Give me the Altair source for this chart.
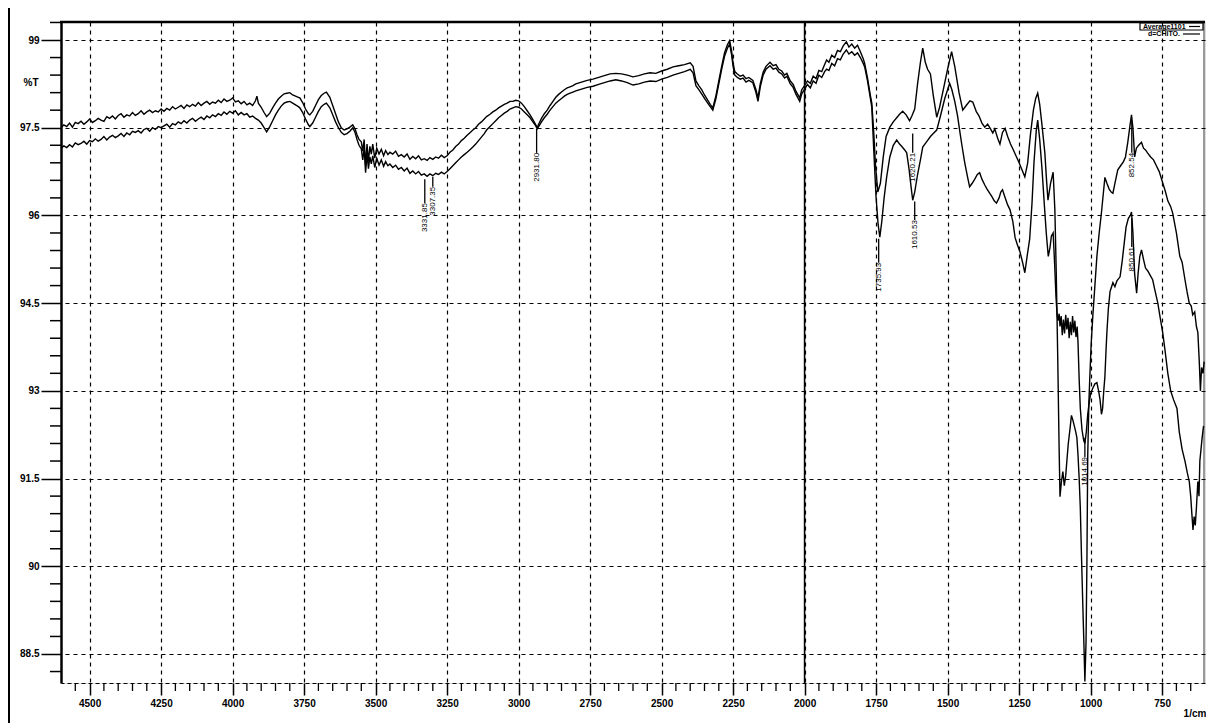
import altair as alt
import pandas as pd

# ---------------- data ----------------
spec_a = [
    (4600, 97.50), (4590, 97.55), (4580, 97.52), (4570, 97.58), (4560, 97.51), (4550, 97.59),
    (4540, 97.57), (4530, 97.61), (4520, 97.56), (4510, 97.60), (4500, 97.65), (4490, 97.59),
    (4480, 97.62), (4470, 97.66), (4460, 97.63), (4450, 97.61), (4440, 97.69), (4430, 97.66),
    (4420, 97.70), (4410, 97.65), (4400, 97.71), (4390, 97.74), (4380, 97.68), (4370, 97.72),
    (4360, 97.70), (4350, 97.76), (4340, 97.71), (4330, 97.74), (4320, 97.79), (4310, 97.73),
    (4300, 97.77), (4290, 97.80), (4280, 97.76), (4270, 97.79), (4260, 97.77), (4250, 97.82),
    (4240, 97.78), (4230, 97.83), (4220, 97.80), (4210, 97.86), (4200, 97.82), (4190, 97.85),
    (4180, 97.88), (4170, 97.83), (4160, 97.89), (4150, 97.86), (4140, 97.90), (4130, 97.87),
    (4120, 97.93), (4110, 97.88), (4100, 97.92), (4090, 97.95), (4080, 97.90), (4070, 97.94),
    (4060, 97.92), (4050, 97.97), (4040, 97.93), (4030, 97.99), (4020, 97.95), (4010, 97.97),
    (4000, 98.01), (3990, 97.94), (3980, 97.96), (3970, 97.91), (3960, 97.95), (3950, 97.89),
    (3940, 97.92), (3930, 97.88), (3920, 97.96), (3915, 98.04), (3910, 97.92), (3900, 97.85),
    (3890, 97.76), (3881, 97.69), (3870, 97.75), (3860, 97.84), (3850, 97.92), (3840, 97.99),
    (3830, 98.04), (3820, 98.08), (3810, 98.09), (3800, 98.10), (3790, 98.06), (3780, 98.04),
    (3770, 98.02), (3765, 98.01), (3755, 97.93), (3745, 97.82), (3735, 97.74), (3730, 97.72),
    (3720, 97.78), (3710, 97.88), (3700, 97.98), (3690, 98.05), (3680, 98.09), (3672, 98.11),
    (3660, 98.02), (3650, 97.88), (3640, 97.74), (3630, 97.60), (3620, 97.50), (3610, 97.46),
    (3600, 97.48), (3590, 97.51), (3580, 97.55), (3572, 97.48), (3565, 97.38), (3558, 97.30),
    (3550, 97.26), (3545, 97.10), (3540, 97.30), (3535, 96.85), (3530, 97.22), (3525, 96.92),
    (3520, 97.18), (3515, 97.05), (3510, 97.22), (3503, 96.98), (3496, 97.15), (3488, 97.05),
    (3480, 97.13), (3472, 97.02), (3465, 97.11), (3457, 97.04), (3450, 97.08), (3440, 97.05),
    (3430, 97.10), (3420, 97.01), (3410, 97.04), (3400, 97.00), (3390, 97.05), (3380, 96.96),
    (3370, 97.01), (3360, 96.97), (3350, 97.02), (3340, 96.95), (3330, 96.97), (3320, 96.94),
    (3310, 96.99), (3300, 96.96), (3290, 97.00), (3280, 96.98), (3270, 97.03), (3260, 96.99),
    (3250, 97.02), (3240, 97.08), (3230, 97.12), (3220, 97.18), (3210, 97.22), (3200, 97.28),
    (3190, 97.32), (3180, 97.37), (3171, 97.41), (3160, 97.46), (3150, 97.50), (3140, 97.56),
    (3130, 97.60), (3120, 97.65), (3112, 97.69), (3100, 97.73), (3090, 97.77), (3080, 97.80),
    (3070, 97.84), (3060, 97.87), (3050, 97.90), (3040, 97.92), (3030, 97.95), (3020, 97.95),
    (3010, 97.97), (3000, 97.96), (2990, 97.92), (2980, 97.86), (2970, 97.79), (2960, 97.72),
    (2950, 97.64), (2940, 97.55), (2935, 97.50), (2930, 97.56), (2920, 97.66), (2910, 97.74),
    (2900, 97.80), (2890, 97.88), (2880, 97.95), (2870, 98.02), (2860, 98.07), (2850, 98.11),
    (2840, 98.15), (2830, 98.18), (2820, 98.20), (2810, 98.22), (2800, 98.25), (2780, 98.28),
    (2760, 98.31), (2740, 98.33), (2720, 98.36), (2700, 98.39), (2680, 98.42), (2660, 98.43),
    (2640, 98.42), (2620, 98.40), (2600, 98.37), (2580, 98.39), (2560, 98.42), (2540, 98.44),
    (2520, 98.43), (2500, 98.47), (2480, 98.50), (2460, 98.54), (2440, 98.56), (2420, 98.58),
    (2400, 98.61), (2390, 98.55), (2380, 98.30), (2370, 98.22), (2360, 98.15), (2350, 98.06),
    (2340, 97.98), (2330, 97.90), (2321, 97.84), (2310, 98.05), (2300, 98.30), (2290, 98.55),
    (2280, 98.78), (2270, 98.92), (2262, 98.99), (2255, 98.80), (2250, 98.60), (2244, 98.46),
    (2235, 98.42), (2225, 98.38), (2215, 98.40), (2205, 98.34), (2195, 98.36), (2181, 98.31),
    (2170, 98.15), (2163, 98.01), (2155, 98.25), (2145, 98.45), (2135, 98.55), (2121, 98.62),
    (2110, 98.56), (2100, 98.58), (2090, 98.50), (2080, 98.47), (2070, 98.40), (2062, 98.43),
    (2050, 98.30), (2040, 98.24), (2030, 98.12), (2017, 98.01), (2010, 98.15), (2000, 98.22),
    (1990, 98.30), (1980, 98.26), (1970, 98.38), (1960, 98.34), (1950, 98.48), (1940, 98.46),
    (1930, 98.58), (1923, 98.66), (1915, 98.62), (1905, 98.74), (1895, 98.70), (1885, 98.82),
    (1875, 98.80), (1865, 98.90), (1854, 98.97), (1845, 98.88), (1835, 98.93), (1825, 98.86),
    (1815, 98.91), (1805, 98.80), (1795, 98.68), (1790, 98.60), (1780, 98.35), (1770, 98.05),
    (1765, 97.92), (1758, 97.40), (1752, 96.85), (1744, 96.40), (1735, 96.55), (1725, 97.00),
    (1715, 97.35), (1702, 97.51), (1690, 97.60), (1678, 97.67), (1668, 97.73), (1657, 97.78),
    (1645, 97.72), (1633, 97.62), (1625, 97.70), (1615, 97.82), (1605, 98.25), (1595, 98.62),
    (1587, 98.86), (1578, 98.62), (1570, 98.50), (1560, 98.42), (1550, 98.05), (1538, 97.68),
    (1528, 97.85), (1515, 98.15), (1500, 98.50), (1486, 98.80), (1475, 98.55), (1460, 98.10),
    (1447, 97.80), (1435, 97.88), (1422, 97.96), (1412, 97.94), (1400, 97.78), (1390, 97.70),
    (1380, 97.58), (1370, 97.51), (1360, 97.56), (1350, 97.48), (1342, 97.41), (1335, 97.48),
    (1325, 97.32), (1317, 97.22), (1308, 97.42), (1299, 97.49), (1290, 97.35), (1280, 97.22),
    (1270, 97.12), (1259, 97.00), (1250, 96.90), (1240, 96.78), (1230, 96.66), (1220, 96.90),
    (1210, 97.40), (1200, 97.80), (1192, 98.00), (1185, 98.09), (1178, 97.90), (1170, 97.55),
    (1160, 97.07), (1154, 96.60), (1149, 96.26), (1140, 96.55), (1131, 96.74), (1125, 96.10),
    (1120, 95.00), (1115, 93.60), (1110, 92.00), (1107, 91.19), (1102, 91.45), (1097, 91.62),
    (1092, 91.38), (1087, 91.55), (1083, 91.80), (1078, 92.10), (1072, 92.35), (1067, 92.58),
    (1062, 92.50), (1057, 92.40), (1052, 92.30), (1048, 92.20), (1044, 91.90), (1040, 91.50),
    (1036, 91.00), (1032, 90.20), (1027, 89.30), (1023, 88.60), (1020, 88.03), (1016, 88.70),
    (1013, 90.00), (1010, 91.90), (1006, 92.80), (1003, 93.20), (998, 93.80), (992, 94.30),
    (985, 94.80), (978, 95.30), (970, 95.70), (962, 96.05), (955, 96.40), (950, 96.65),
    (943, 96.55), (935, 96.45), (928, 96.40), (922, 96.38), (915, 96.55), (905, 96.78),
    (895, 96.85), (885, 96.92), (878, 97.00), (870, 97.25), (862, 97.55), (857, 97.72),
    (852, 97.50), (846, 97.00), (840, 97.15), (832, 97.20), (822, 97.25), (815, 97.15),
    (808, 97.12), (801, 97.07), (790, 97.00), (780, 96.95), (770, 96.85), (760, 96.75),
    (748, 96.56), (738, 96.40), (730, 96.25), (720, 96.15), (713, 96.04), (700, 95.70),
    (688, 95.30), (680, 95.20), (670, 94.90), (663, 94.70), (655, 94.50), (648, 94.45),
    (643, 94.30), (636, 94.35), (630, 94.10), (625, 94.00), (620, 93.50), (616, 93.00),
    (612, 93.40), (607, 93.30), (603, 93.50),
]

spec_b = [
    (4600, 97.15), (4590, 97.19), (4580, 97.16), (4570, 97.21), (4560, 97.17), (4550, 97.24),
    (4540, 97.21), (4530, 97.23), (4520, 97.27), (4510, 97.22), (4500, 97.28), (4490, 97.26),
    (4480, 97.31), (4470, 97.27), (4460, 97.30), (4450, 97.35), (4440, 97.29), (4430, 97.34),
    (4420, 97.37), (4410, 97.33), (4400, 97.36), (4390, 97.40), (4380, 97.35), (4370, 97.41),
    (4360, 97.38), (4350, 97.44), (4340, 97.42), (4330, 97.45), (4320, 97.41), (4310, 97.47),
    (4300, 97.49), (4290, 97.44), (4280, 97.50), (4270, 97.47), (4260, 97.52), (4250, 97.50),
    (4240, 97.53), (4230, 97.56), (4220, 97.51), (4210, 97.57), (4200, 97.55), (4190, 97.60),
    (4180, 97.57), (4170, 97.62), (4160, 97.58), (4150, 97.63), (4140, 97.66), (4130, 97.61),
    (4120, 97.65), (4110, 97.68), (4100, 97.64), (4090, 97.70), (4080, 97.67), (4070, 97.72),
    (4060, 97.69), (4050, 97.74), (4040, 97.71), (4030, 97.77), (4020, 97.73), (4010, 97.78),
    (4000, 97.75), (3990, 97.79), (3980, 97.72), (3970, 97.76), (3960, 97.72), (3950, 97.74),
    (3940, 97.68), (3930, 97.70), (3920, 97.66), (3910, 97.63), (3900, 97.58), (3890, 97.50),
    (3881, 97.43), (3870, 97.52), (3860, 97.62), (3850, 97.72), (3840, 97.80), (3830, 97.87),
    (3820, 97.92), (3810, 97.94), (3800, 97.95), (3790, 97.92), (3780, 97.89), (3770, 97.86),
    (3765, 97.84), (3755, 97.76), (3745, 97.65), (3735, 97.55), (3730, 97.52), (3720, 97.58),
    (3710, 97.68), (3700, 97.78), (3690, 97.86), (3680, 97.90), (3672, 97.92), (3660, 97.84),
    (3650, 97.72), (3640, 97.60), (3630, 97.50), (3620, 97.42), (3610, 97.38), (3600, 97.40),
    (3590, 97.44), (3580, 97.50), (3572, 97.42), (3565, 97.30), (3558, 97.20), (3550, 97.14),
    (3545, 96.95), (3540, 97.15), (3535, 96.73), (3530, 97.05), (3525, 96.80), (3520, 97.00),
    (3515, 96.88), (3510, 97.02), (3503, 96.82), (3496, 96.98), (3488, 96.86), (3480, 96.95),
    (3472, 96.84), (3465, 96.92), (3457, 96.85), (3450, 96.88), (3440, 96.82), (3430, 96.86),
    (3420, 96.79), (3410, 96.82), (3400, 96.76), (3390, 96.81), (3380, 96.72), (3370, 96.76),
    (3360, 96.71), (3350, 96.75), (3340, 96.69), (3330, 96.71), (3320, 96.67), (3310, 96.71),
    (3300, 96.68), (3290, 96.72), (3280, 96.70), (3270, 96.74), (3260, 96.71), (3250, 96.75),
    (3240, 96.80), (3230, 96.85), (3220, 96.90), (3210, 96.95), (3200, 97.00), (3190, 97.04),
    (3180, 97.08), (3171, 97.12), (3160, 97.17), (3150, 97.22), (3140, 97.28), (3130, 97.34),
    (3120, 97.40), (3112, 97.46), (3100, 97.52), (3090, 97.57), (3080, 97.62), (3070, 97.67),
    (3060, 97.71), (3050, 97.75), (3040, 97.78), (3030, 97.82), (3020, 97.84), (3010, 97.86),
    (3000, 97.85), (2990, 97.82), (2980, 97.77), (2970, 97.72), (2960, 97.67), (2950, 97.60),
    (2940, 97.53), (2935, 97.48), (2930, 97.52), (2920, 97.60), (2910, 97.67), (2900, 97.73),
    (2890, 97.80), (2880, 97.86), (2870, 97.92), (2860, 97.96), (2850, 98.00), (2840, 98.04),
    (2830, 98.07), (2820, 98.09), (2810, 98.11), (2800, 98.13), (2780, 98.16), (2760, 98.19),
    (2740, 98.21), (2720, 98.24), (2700, 98.27), (2680, 98.30), (2660, 98.32), (2640, 98.30),
    (2620, 98.27), (2600, 98.23), (2580, 98.25), (2560, 98.28), (2540, 98.30), (2520, 98.29),
    (2500, 98.33), (2480, 98.36), (2460, 98.40), (2440, 98.43), (2420, 98.46), (2400, 98.50),
    (2390, 98.44), (2380, 98.22), (2370, 98.15), (2360, 98.08), (2350, 98.00), (2340, 97.93),
    (2330, 97.86), (2321, 97.80), (2310, 98.00), (2300, 98.25), (2290, 98.50), (2280, 98.72),
    (2270, 98.86), (2262, 98.93), (2255, 98.74), (2250, 98.55), (2244, 98.40), (2235, 98.36),
    (2225, 98.33), (2215, 98.35), (2205, 98.28), (2195, 98.31), (2181, 98.27), (2170, 98.10),
    (2163, 97.95), (2155, 98.20), (2145, 98.40), (2135, 98.50), (2121, 98.56), (2110, 98.50),
    (2100, 98.52), (2090, 98.45), (2080, 98.42), (2070, 98.35), (2062, 98.38), (2050, 98.25),
    (2040, 98.19), (2030, 98.07), (2017, 97.95), (2010, 98.08), (2000, 98.16), (1990, 98.24),
    (1980, 98.18), (1970, 98.30), (1960, 98.26), (1950, 98.40), (1940, 98.36), (1930, 98.46),
    (1923, 98.50), (1915, 98.48), (1905, 98.60), (1895, 98.56), (1885, 98.68), (1875, 98.66),
    (1865, 98.76), (1854, 98.83), (1845, 98.76), (1835, 98.80), (1825, 98.74), (1815, 98.78),
    (1805, 98.70), (1795, 98.60), (1790, 98.54), (1780, 98.30), (1770, 98.00), (1765, 97.85),
    (1758, 97.10), (1750, 96.30), (1743, 95.85), (1737, 95.63), (1730, 95.90), (1722, 96.30),
    (1713, 96.66), (1702, 97.00), (1690, 97.20), (1678, 97.29), (1668, 97.22), (1660, 97.18),
    (1650, 97.12), (1643, 97.07), (1635, 96.80), (1628, 96.50), (1622, 96.26), (1615, 96.40),
    (1605, 96.70), (1595, 96.95), (1587, 97.17), (1575, 97.25), (1560, 97.35), (1550, 97.40),
    (1538, 97.46), (1525, 97.70), (1510, 98.00), (1500, 98.15), (1493, 98.26), (1485, 98.15),
    (1475, 97.95), (1465, 97.70), (1458, 97.46), (1450, 97.20), (1440, 96.90), (1430, 96.65),
    (1423, 96.49), (1414, 96.55), (1405, 96.62), (1396, 96.70), (1388, 96.73), (1380, 96.62),
    (1370, 96.52), (1362, 96.45), (1353, 96.38), (1345, 96.32), (1337, 96.25), (1329, 96.21),
    (1320, 96.30), (1314, 96.40), (1308, 96.44), (1300, 96.32), (1290, 96.18), (1282, 96.10),
    (1272, 95.90), (1264, 95.62), (1256, 95.50), (1247, 95.38), (1238, 95.20), (1230, 95.02),
    (1222, 95.30), (1213, 95.60), (1205, 96.20), (1198, 96.90), (1190, 97.45), (1185, 97.63),
    (1178, 97.30), (1170, 96.80), (1162, 96.20), (1155, 95.70), (1148, 95.30), (1142, 95.45),
    (1137, 95.65), (1131, 95.70), (1126, 95.20), (1121, 94.60), (1117, 94.30), (1114, 94.20),
    (1110, 94.32), (1107, 94.10), (1103, 94.28), (1099, 93.95), (1095, 94.22), (1091, 93.98),
    (1087, 94.30), (1083, 94.05), (1079, 94.25), (1075, 93.90), (1071, 94.18), (1067, 93.95),
    (1063, 94.28), (1059, 94.00), (1055, 94.20), (1051, 93.92), (1047, 94.10), (1044, 93.82),
    (1040, 93.20), (1036, 92.70), (1030, 92.33), (1024, 92.15), (1020, 92.10), (1015, 92.30),
    (1010, 92.60), (1005, 92.80), (1000, 92.95), (992, 93.05), (985, 93.12), (978, 93.14),
    (972, 93.00), (967, 92.85), (962, 92.60), (958, 92.70), (954, 93.00), (950, 93.24),
    (946, 93.70), (943, 94.00), (938, 94.40), (932, 94.70), (922, 94.85), (915, 94.78),
    (908, 94.88), (897, 94.95), (890, 95.20), (883, 95.50), (876, 95.80), (868, 95.95),
    (861, 96.00), (857, 96.06), (852, 95.70), (846, 95.00), (839, 94.67), (834, 95.00),
    (828, 95.30), (822, 95.41), (815, 95.25), (808, 95.10), (800, 95.05), (792, 94.98),
    (783, 94.90), (775, 94.72), (765, 94.50), (757, 94.26), (748, 94.00), (740, 93.70),
    (730, 93.30), (720, 93.00), (710, 92.85), (698, 92.70), (690, 92.30), (680, 92.00),
    (670, 91.80), (662, 91.60), (655, 91.45), (650, 91.20), (646, 90.90), (642, 90.62),
    (638, 90.85), (634, 90.70), (630, 91.00), (625, 91.45), (621, 91.20), (618, 91.80),
    (614, 92.00), (610, 92.20), (605, 92.40),
]

peak_labels = ["3331.85", "3307.35", "2931.80", "1735.93", "1620.21", "1610.53", "1014.69", "852.54", "850.61"]
peak_wn = [3328, 3300, 2937, 1741, 1622, 1615, 1020, 856, 856]
peak_from = [96.62, 96.66, 97.48, 95.60, 97.40, 96.24, 92.20, 97.62, 95.95]
peak_text = [96.21, 96.49, 97.07, 95.19, 97.07, 95.92, 91.87, 97.07, 95.46]

y_ticks = [88.5, 90, 91.5, 93, 94.5, 96, 97.5, 99]
x_ticks = [750, 1000, 1250, 1500, 1750, 2000, 2250, 2500, 2750, 3000, 3250, 3500, 3750, 4000, 4250, 4500]
legend_names = ["Average1101", "d=CHITO."]

# ---------------- layout constants ----------------
W, H = 1144, 661
FONT = "Liberation Sans"
Y_DOM = [88.004, 99.308]
X_DOM = [600, 4600]

minor_y = [round(88.2 + 0.3 * i, 1) for i in range(38)]
minor_y = [v for v in minor_y if v not in y_ticks and Y_DOM[0] <= v <= Y_DOM[1]]
minor_x = [v for v in range(650, 4600, 50) if v % 250 != 0]

xs = alt.Scale(domain=X_DOM, reverse=True, nice=False, zero=False)
ys = alt.Scale(domain=Y_DOM, nice=False, zero=False)

X_AX = alt.Axis(
    values=x_ticks, format="d", title=None, tickSize=12, tickColor="black", tickWidth=1.5,
    domainColor="black", domainWidth=1.2, domainDash=[4, 3],
    labelFont=FONT, labelFontSize=10, labelFontWeight="bold", labelColor="black", labelPadding=3,
    grid=True, gridColor="black", gridDash=[4, 4], gridWidth=1.2, gridOpacity=1,
)
Y_AX = alt.Axis(
    values=y_ticks, format=".1~f", title=None, tickSize=20, tickColor="black", tickWidth=1.5,
    domainColor="black", domainWidth=2.5,
    labelFont=FONT, labelFontSize=10, labelFontWeight="bold", labelColor="black", labelPadding=2,
    grid=True, gridColor="black", gridDash=[4, 4], gridWidth=1.2, gridOpacity=1,
)

rows = [(w, t, "A") for w, t in spec_a] + [(w, t, "B") for w, t in spec_b]
df = pd.DataFrame(rows, columns=["wn", "T", "s"])

lines = alt.Chart(df).mark_line(strokeWidth=1.4, clip=True, color="black").encode(
    x=alt.X("wn:Q", scale=xs, axis=X_AX),
    y=alt.Y("T:Q", scale=ys, axis=Y_AX),
    detail="s:N",
)

# minor ticks
my = alt.Chart(pd.DataFrame({"wn": [0] * len(minor_y), "T": minor_y})).mark_rule(
    color="black", strokeWidth=1.5).encode(
    y=alt.Y("T:Q", scale=ys, axis=Y_AX), x=alt.value(-11), x2=alt.value(0))
mx = alt.Chart(pd.DataFrame({"wn": minor_x})).mark_rule(color="black", strokeWidth=1.3).encode(
    x=alt.X("wn:Q", scale=xs, axis=X_AX), y=alt.value(H), y2=alt.value(H + 8))

# solid 2000 line
r2000 = alt.Chart(pd.DataFrame({"wn": [2000]})).mark_rule(color="black", strokeWidth=1.6).encode(
    x=alt.X("wn:Q", scale=xs, axis=X_AX), y=alt.value(0), y2=alt.value(H))

one = pd.DataFrame({"k": [0]})
top_border = alt.Chart(one).mark_rule(color="black", strokeWidth=2.5).encode(
    x=alt.value(-1), x2=alt.value(W), y=alt.value(0))
right_border = alt.Chart(one).mark_rule(color="black", strokeWidth=0.8).encode(
    x=alt.value(W - 1), y=alt.value(0), y2=alt.value(H))
frame_left = alt.Chart(one).mark_rule(color="black", strokeWidth=2).encode(
    x=alt.value(-52), y=alt.value(-14), y2=alt.value(H + 40))

# peak labels
pk = pd.DataFrame({"wn": peak_wn, "T": peak_from, "T2": peak_text, "lab": peak_labels})
pk_rules = alt.Chart(pk).mark_rule(color="black", strokeWidth=1.3).encode(
    x=alt.X("wn:Q", scale=xs, axis=X_AX), y=alt.Y("T:Q", scale=ys, axis=Y_AX), y2="T2:Q")
pk_text = alt.Chart(pk).mark_text(angle=270, align="right", baseline="middle", fontSize=8,
                                  font=FONT, color="black").encode(
    x=alt.X("wn:Q", scale=xs, axis=X_AX), y=alt.Y("T2:Q", scale=ys, axis=Y_AX), text="lab:N")

# axis captions
pct = alt.Chart(one).mark_text(text="%T", font=FONT, fontSize=10, fontWeight="bold",
                               align="center", baseline="middle", color="black").encode(
    x=alt.value(-30), y=alt.value(61))
unit = alt.Chart(one).mark_text(text="1/cm", font=FONT, fontSize=10, fontWeight="bold",
                                align="center", baseline="middle", color="black").encode(
    x=alt.value(W - 10), y=alt.value(H + 31))

# legend (top right)
leg_box = alt.Chart(one).mark_rect(filled=False, stroke="black", strokeWidth=1.2).encode(
    x=alt.value(1079), x2=alt.value(W - 2), y=alt.value(1), y2=alt.value(8))
leg_df = pd.DataFrame({"name": legend_names, "tx": [1082, 1087], "ty": [4.5, 12],
                       "lx1": [1128, 1122], "lx2": [1139, 1139]})
leg_text = alt.Chart(leg_df).mark_text(font=FONT, fontSize=7, fontWeight="bold", align="left",
                                      baseline="middle", color="black").encode(
    x=alt.X("tx:Q", scale=None), y=alt.Y("ty:Q", scale=None), text="name:N")
leg_lines = alt.Chart(leg_df).mark_rule(color="black", strokeWidth=1.2).encode(
    x=alt.X("lx1:Q", scale=None), x2="lx2:Q", y=alt.Y("ty:Q", scale=None))

chart = alt.layer(
    lines, my, mx, r2000, top_border, right_border, frame_left,
    pk_rules, pk_text, pct, unit, leg_box, leg_text, leg_lines,
).properties(
    width=W, height=H,
    autosize=alt.AutoSizeParams(type="none"),
    padding={"left": 53, "top": 14, "right": 1, "bottom": 40},
).configure_view(stroke=None).configure(background="white")

chart.save("out.html", embed_options={"renderer": "svg", "actions": False})
